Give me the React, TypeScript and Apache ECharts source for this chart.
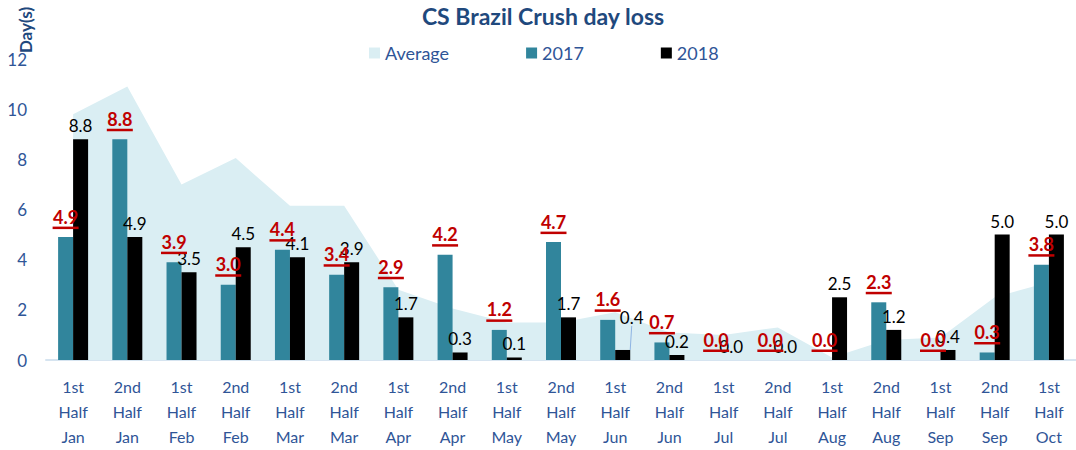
import React, { useEffect, useRef } from "react";
import * as echarts from "echarts";

const categories = [
  "1st\nHalf\nJan", "2nd\nHalf\nJan", "1st\nHalf\nFeb", "2nd\nHalf\nFeb",
  "1st\nHalf\nMar", "2nd\nHalf\nMar", "1st\nHalf\nApr", "2nd\nHalf\nApr",
  "1st\nHalf\nMay", "2nd\nHalf\nMay", "1st\nHalf\nJun", "2nd\nHalf\nJun",
  "1st\nHalf\nJul", "2nd\nHalf\nJul", "1st\nHalf\nAug", "2nd\nHalf\nAug",
  "1st\nHalf\nSep", "2nd\nHalf\nSep", "1st\nHalf\nOct",
];
const average = [9.8, 10.9, 7.0, 8.05, 6.15, 6.15, 2.8, 2.05, 1.5, 1.5, 1.9, 1.1, 1.0, 1.3, 0.1, 0.8, 0.9, 2.5, 3.1];
const values2017 = [4.9, 8.8, 3.9, 3.0, 4.4, 3.4, 2.9, 4.2, 1.2, 4.7, 1.6, 0.7, 0.0, 0.0, 0.0, 2.3, 0.0, 0.3, 3.8];
const values2018 = [8.8, 4.9, 3.5, 4.5, 4.1, 3.9, 1.7, 0.3, 0.1, 1.7, 0.4, 0.2, 0.0, 0.0, 2.5, 1.2, 0.4, 5.0, 5.0];
const yTicks = { min: 0, max: 12, interval: 2 };
const leaderLabelIndex = 10;

const FONT = "Lato, 'Open Sans', sans-serif";
const BLUE_TEXT = "#2F5597";
const TITLE_BLUE = "#1F497D";
const TEAL = "#31859C";
const AREA = "#DAEEF3";
const RED = "#C00000";

export default function App() {
  const ref = useRef<HTMLDivElement>(null);
  useEffect(() => {
    if (!ref.current) return;
    const chart = echarts.init(ref.current, null, { renderer: "svg" });
    const data2018 = values2018.map((v, i) =>
      i === leaderLabelIndex
        ? { value: v, labelLine: { show: true, lineStyle: { color: "#8EB4E3", width: 1 } } }
        : v
    );
    const option: any = {
      animation: false,
      textStyle: { fontFamily: FONT },
      graphic: [
        {
          type: "text",
          x: 543,
          y: 16,
          style: {
            text: "CS Brazil Crush day loss",
            font: `bold 23px ${FONT}`,
            fill: TITLE_BLUE,
            align: "center",
            verticalAlign: "middle",
          },
        },
        {
          type: "text",
          x: 25,
          y: 30,
          rotation: Math.PI / 2,
          style: {
            text: "Day(s)",
            font: `bold 17px ${FONT}`,
            fill: TITLE_BLUE,
            align: "center",
            verticalAlign: "middle",
          },
        },
      ],
      legend: {
        left: 369,
        top: 44,
        padding: 0,
        itemGap: 77,
        itemWidth: 11,
        itemHeight: 11,
        icon: "rect",
        textStyle: { fontSize: 18, color: BLUE_TEXT, fontFamily: FONT },
        data: ["Average", "2017", "2018"],
      },
      grid: { left: 46, top: 59, width: 1036, bottom: 90, containLabel: false },
      xAxis: {
        type: "category",
        data: categories,
        axisTick: { show: false },
        axisLine: { lineStyle: { color: "#D6E4F0", width: 2 } },
        axisLabel: {
          interval: 0,
          fontSize: 16,
          lineHeight: 25,
          color: BLUE_TEXT,
          fontFamily: FONT,
          margin: 14,
        },
      },
      yAxis: {
        type: "value",
        min: yTicks.min,
        max: yTicks.max,
        interval: yTicks.interval,
        splitLine: { show: false },
        axisLine: { show: false },
        axisTick: { show: false },
        axisLabel: { fontSize: 17, color: BLUE_TEXT, fontFamily: FONT, margin: 19 },
      },
      series: [
        {
          name: "Average",
          type: "line",
          data: average,
          symbol: "none",
          lineStyle: { width: 0, color: AREA },
          itemStyle: { color: AREA },
          areaStyle: { color: AREA, opacity: 1 },
          z: 1,
        },
        {
          name: "2017",
          type: "bar",
          data: values2017,
          barWidth: 15,
          barGap: "0%",
          itemStyle: { color: TEAL },
          z: 2,
        },
        {
          name: "2018",
          type: "bar",
          data: data2018,
          barWidth: 15,
          barGap: "0%",
          itemStyle: { color: "#000000" },
          z: 2,
          label: {
            show: true,
            position: "top",
            distance: 5,
            color: "#000000",
            fontSize: 17,
            fontFamily: FONT,
            formatter: (p: any) => Number(p.value).toFixed(1),
          },
          labelLine: { show: false },
          labelLayout: (p: any) =>
            p.dataIndex === leaderLabelIndex ? { dx: 9, dy: -19 } : {},
        },
        {
          name: "2017 labels",
          type: "custom",
          data: values2017.map((v, i) => [i, v]),
          clip: false,
          z: 5,
          renderItem: (params: any, api: any) => {
            const v = api.value(1);
            const p = api.coord([api.value(0), v]);
            const cx = p[0] - 7.5;
            const top = p[1];
            return {
              type: "group",
              children: [
                {
                  type: "text",
                  x: cx,
                  y: top - 11.5,
                  style: {
                    text: Number(v).toFixed(1),
                    font: `bold 18px ${FONT}`,
                    fill: RED,
                    align: "center",
                    verticalAlign: "bottom",
                  },
                },
                {
                  type: "rect",
                  shape: { x: cx - 13, y: top - 10.5, width: 26, height: 2.5 },
                  style: { fill: RED },
                },
              ],
            };
          },
        },
      ],
    };
    chart.setOption(option);
    return () => chart.dispose();
  }, []);
  return (
    <div
      ref={ref}
      style={{ position: "absolute", left: 0, top: 0, width: 1076, height: 450 }}
    />
  );
}
